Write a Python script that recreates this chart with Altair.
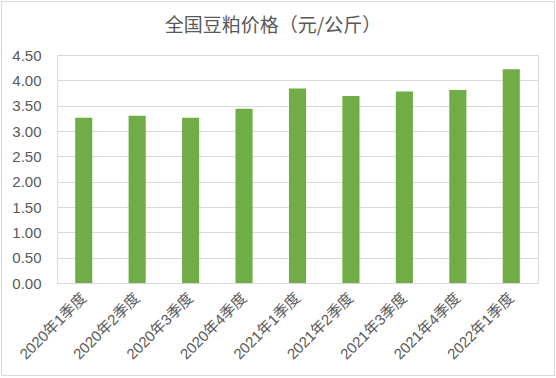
import altair as alt
import pandas as pd

categories = ["2020年1季度", "2020年2季度", "2020年3季度", "2020年4季度",
              "2021年1季度", "2021年2季度", "2021年3季度", "2021年4季度",
              "2022年1季度"]
prices = [3.26, 3.30, 3.26, 3.44, 3.84, 3.69, 3.78, 3.81, 4.22]
y_ticks = [0, 0.5, 1, 1.5, 2, 2.5, 3, 3.5, 4, 4.5]
title_text = ["全国豆粕价格（元/公斤）"]

df = pd.DataFrame({"季度": categories, "价格": prices})
tdf = pd.DataFrame({"t": title_text})

W, H = 481, 228
FONT = "Liberation Sans, Noto Sans CJK SC, sans-serif"

bars = alt.Chart(df).mark_bar(color="#70ad47").encode(
    x=alt.X("季度:N", sort=categories, title=None,
            scale=alt.Scale(paddingInner=0.68, paddingOuter=0.34),
            axis=alt.Axis(labelAngle=-45, labelAlign="right", labelBaseline="middle",
                          labelPadding=12, ticks=False, domainColor="#d9d9d9",
                          domainWidth=1, labelColor="#595959", labelFontSize=15,
                          labelFont=FONT)),
    y=alt.Y("价格:Q", title=None,
            scale=alt.Scale(domain=[0, 4.5], nice=False),
            axis=alt.Axis(values=y_ticks, format=".2f", ticks=False, domain=False,
                          gridColor="#d9d9d9", gridWidth=1, labelPadding=16,
                          labelColor="#595959", labelFontSize=15, labelFont=FONT)),
)

border = alt.Chart(df).mark_rect(fill=None, stroke="#d9d9d9", strokeWidth=1, clip=False).encode(
    x=alt.value(-55.5), x2=alt.value(W + 16.5),
    y=alt.value(-53.5), y2=alt.value(H + 92.5),
)

title = alt.Chart(tdf).mark_text(
    font="Noto Sans CJK SC", fontSize=19, color="#595959",
    align="center", baseline="alphabetic", clip=False,
).encode(text="t:N", x=alt.value(216), y=alt.value(-23))

chart = alt.layer(border, bars, title).properties(
    width=W, height=H,
    autosize=alt.AutoSizeParams(type="none"),
    padding={"left": 57, "top": 55, "right": 18, "bottom": 95},
).configure_view(stroke=None).configure(background="white")

chart.save("out.html", embed_options={"renderer": "svg", "actions": False})
